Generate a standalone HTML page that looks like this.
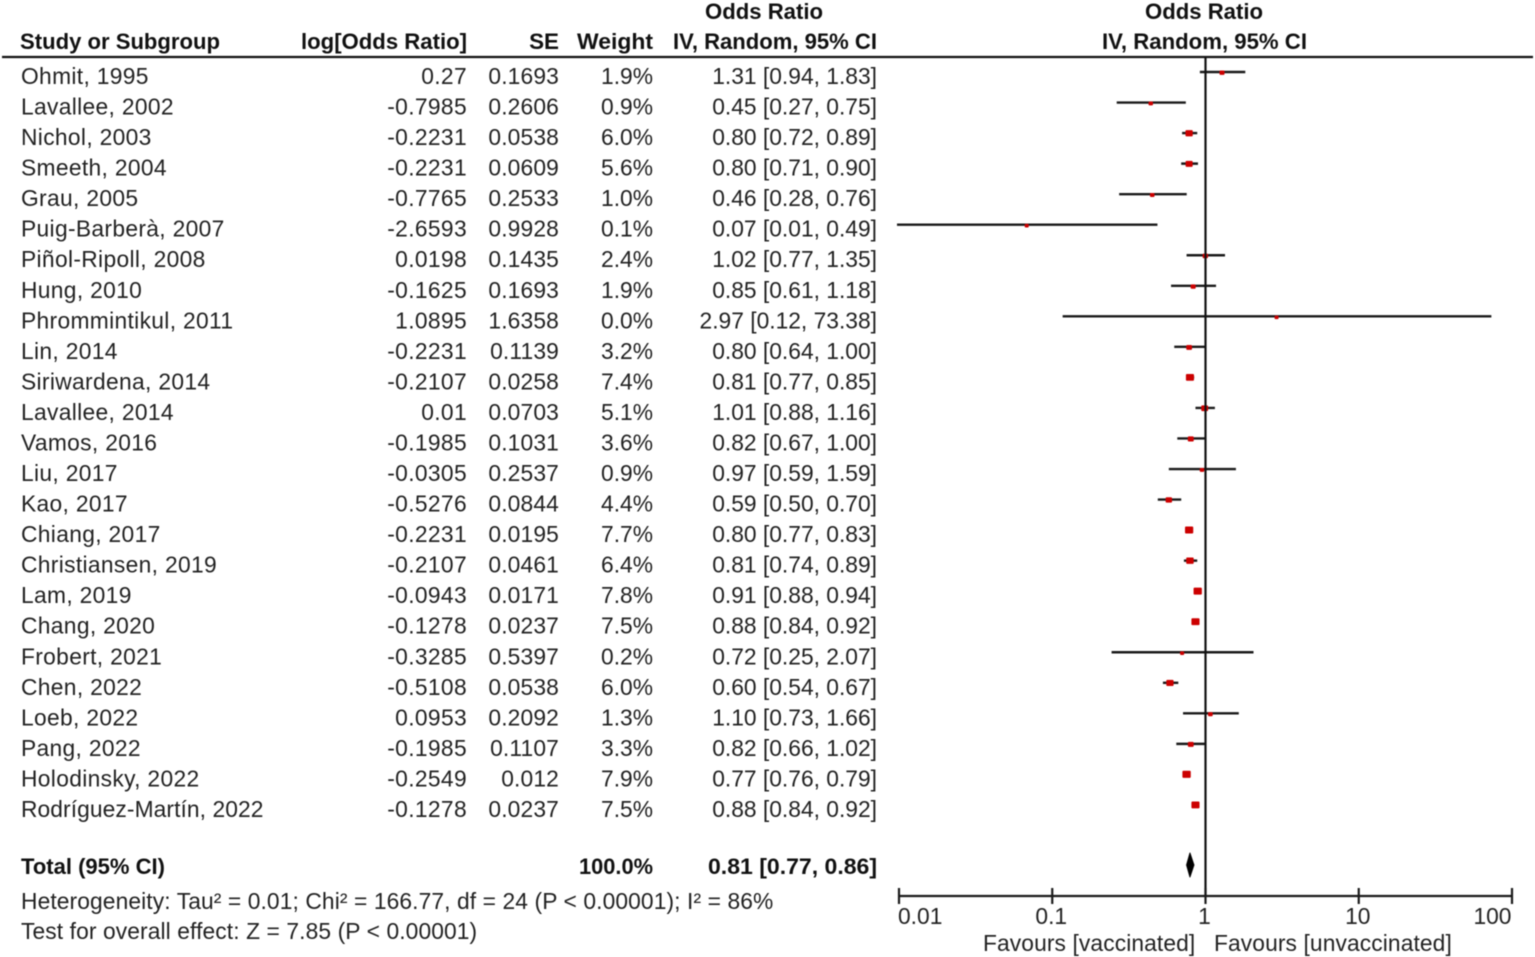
<!DOCTYPE html>
<html lang="en">
<head>
<meta charset="utf-8">
<title>Forest plot</title>
<style>
html,body{margin:0;padding:0;background:#fff;}
svg{display:block;}
text{font-family:"Liberation Sans",Arial,sans-serif;font-size:22.8px;fill:#222;}
.b{font-weight:bold;font-size:22.4px;fill:#111;}
.name{letter-spacing:0.33px;}
.name-long{letter-spacing:0.08px;}
.logodds{letter-spacing:0.35px;}
.se{letter-spacing:0.15px;}
.note{letter-spacing:0.1px;}
#blur-layer{filter:blur(0.55px);}
</style>
</head>
<body>
<svg id="chart" width="1535" height="957" viewBox="0 0 1535 957" xmlns="http://www.w3.org/2000/svg">
<g id="blur-layer">
<g id="header">
<text class="b" x="20" y="49" textLength="200" lengthAdjust="spacingAndGlyphs">Study or Subgroup</text>
<text class="b" x="301" y="49" textLength="166" lengthAdjust="spacingAndGlyphs">log[Odds Ratio]</text>
<text class="b" x="559" y="49" text-anchor="end">SE</text>
<text class="b" x="577" y="49" textLength="76" lengthAdjust="spacingAndGlyphs">Weight</text>
<text class="b" x="705" y="19" textLength="118" lengthAdjust="spacingAndGlyphs">Odds Ratio</text>
<text class="b" x="673" y="49" textLength="204" lengthAdjust="spacingAndGlyphs">IV, Random, 95% CI</text>
<text class="b" x="1145" y="19" textLength="118" lengthAdjust="spacingAndGlyphs">Odds Ratio</text>
<text class="b" x="1102" y="49" textLength="205" lengthAdjust="spacingAndGlyphs">IV, Random, 95% CI</text>
<line x1="2" y1="57" x2="1533" y2="57" stroke="#111" stroke-width="2.2"/>
</g>
<g id="rows"></g>
<g id="marks"></g>
<g id="total">
<text class="b" x="21" y="874" textLength="144" lengthAdjust="spacingAndGlyphs">Total (95% CI)</text>
<text class="b" x="579" y="874" textLength="74" lengthAdjust="spacingAndGlyphs">100.0%</text>
<text class="b" x="708" y="874" textLength="169" lengthAdjust="spacingAndGlyphs">0.81 [0.77, 0.86]</text>
</g>
<text class="note" x="21" y="909">Heterogeneity: Tau² = 0.01; Chi² = 166.77, df = 24 (P &lt; 0.00001); I² = 86%</text>
<text class="note" x="21" y="939">Test for overall effect: Z = 7.85 (P &lt; 0.00001)</text>
<g id="axis"></g>
<text class="note" x="983" y="951">Favours [vaccinated]</text>
<text class="note" x="1214" y="951">Favours [unvaccinated]</text>
</g>
</svg>
<script>
const studies = ["Ohmit, 1995","Lavallee, 2002","Nichol, 2003","Smeeth, 2004","Grau, 2005","Puig-Barberà, 2007","Piñol-Ripoll, 2008","Hung, 2010","Phrommintikul, 2011","Lin, 2014","Siriwardena, 2014","Lavallee, 2014","Vamos, 2016","Liu, 2017","Kao, 2017","Chiang, 2017","Christiansen, 2019","Lam, 2019","Chang, 2020","Frobert, 2021","Chen, 2022","Loeb, 2022","Pang, 2022","Holodinsky, 2022","Rodríguez-Martín, 2022"];
const logOddsLabels = ["0.27","-0.7985","-0.2231","-0.2231","-0.7765","-2.6593","0.0198","-0.1625","1.0895","-0.2231","-0.2107","0.01","-0.1985","-0.0305","-0.5276","-0.2231","-0.2107","-0.0943","-0.1278","-0.3285","-0.5108","0.0953","-0.1985","-0.2549","-0.1278"];
const seLabels = ["0.1693","0.2606","0.0538","0.0609","0.2533","0.9928","0.1435","0.1693","1.6358","0.1139","0.0258","0.0703","0.1031","0.2537","0.0844","0.0195","0.0461","0.0171","0.0237","0.5397","0.0538","0.2092","0.1107","0.012","0.0237"];
const weights = [1.9,0.9,6.0,5.6,1.0,0.1,2.4,1.9,0.0,3.2,7.4,5.1,3.6,0.9,4.4,7.7,6.4,7.8,7.5,0.2,6.0,1.3,3.3,7.9,7.5];
const oddsRatios = [1.31,0.45,0.80,0.80,0.46,0.07,1.02,0.85,2.97,0.80,0.81,1.01,0.82,0.97,0.59,0.80,0.81,0.91,0.88,0.72,0.60,1.10,0.82,0.77,0.88];
const ciLower = [0.94,0.27,0.72,0.71,0.28,0.01,0.77,0.61,0.12,0.64,0.77,0.88,0.67,0.59,0.50,0.77,0.74,0.88,0.84,0.25,0.54,0.73,0.66,0.76,0.84];
const ciUpper = [1.83,0.75,0.89,0.90,0.76,0.49,1.35,1.18,73.38,1.00,0.85,1.16,1.00,1.59,0.70,0.83,0.89,0.94,0.92,2.07,0.67,1.66,1.02,0.79,0.92];
const totalOR = [0.81];
const totalLower = [0.77];
const totalUpper = [0.86];
const axisTicks = [0.01,0.1,1,10,100];
const axisTickLabels = ["0.01","0.1","1","10","100"];

const NS = "http://www.w3.org/2000/svg";
const xAxisScale = v => 1205.5 + Math.log10(v) * 153.25;
const xScale = v => 1204 + Math.log10(v) * 153.5;
const rowY = i => 76 + i * 30.54;
function make(parent, tag, attrs, text) {
  const el = document.createElementNS(NS, tag);
  for (const k in attrs) el.setAttribute(k, attrs[k]);
  if (text !== undefined) el.textContent = text;
  parent.appendChild(el);
  return el;
}
const rowsG = document.getElementById("rows");
const marksG = document.getElementById("marks");
const axisG = document.getElementById("axis");

studies.forEach((s, i) => {
  const y = rowY(i);
  const base = y + 8;
  const t1 = make(rowsG, "text", {x: 21, y: base, class: s.length > 20 ? "name-long" : "name"}, s);
  
  
  const t2 = make(rowsG, "text", {x: 467, y: base, "text-anchor": "end", class: "logodds"}, logOddsLabels[i]);
  
  
  const t3 = make(rowsG, "text", {x: 559, y: base, "text-anchor": "end", class: "se"}, seLabels[i]);
  
  
  const t4 = make(rowsG, "text", {x: 653, y: base, "text-anchor": "end"}, weights[i].toFixed(1) + "%");
  
  
  const t5 = make(rowsG, "text", {x: 877, y: base, "text-anchor": "end"},
    oddsRatios[i].toFixed(2) + " [" + ciLower[i].toFixed(2) + ", " + ciUpper[i].toFixed(2) + "]");
  
  

  const my = y - 4;
  const ci = make(marksG, "line", {x1: xScale(ciLower[i]), x2: xScale(ciUpper[i]) + 1, y1: my, y2: my, stroke: "#1a1a1a", "stroke-width": 2.4});
  
  
  const w = 4 + weights[i] * 0.55;
  const h = 3.5 + weights[i] * 0.45;
  const cy = my + 1 - weights[i] * 0.14;
  const sq = make(marksG, "rect", {x: xScale(oddsRatios[i]) - w / 2, y: cy - h / 2, width: w, height: h, rx: 1, fill: "#cc0000"});
  
  
});

const totalY = 865;
const diamond = make(marksG, "polygon", {
  points: [
    [xScale(totalLower[0]), totalY],
    [xScale(totalOR[0]), totalY - 12],
    [xScale(totalUpper[0]), totalY],
    [xScale(totalOR[0]), totalY + 12]
  ].map(p => p.join(",")).join(" "),
  fill: "#000",
  stroke: "#000",
  "stroke-width": 1,
  "stroke-linejoin": "round"
});



const nullLine = make(axisG, "line", {x1: xAxisScale(1), x2: xAxisScale(1), y1: 57, y2: 896, stroke: "#111", "stroke-width": 2.2});


const axisLine = make(axisG, "line", {x1: xAxisScale(axisTicks[0]) - 1, x2: xAxisScale(axisTicks[axisTicks.length - 1]) + 1, y1: 896, y2: 896, stroke: "#1a1a1a", "stroke-width": 2.2});


axisTicks.forEach((v, i) => {
  const x = xAxisScale(v);
  const tick = make(axisG, "line", {x1: x, x2: x, y1: 888, y2: 904, stroke: "#1a1a1a", "stroke-width": 2.2});
  
  
  const anchor = i === 0 ? "start" : (i === axisTicks.length - 1 ? "end" : "middle");
  const label = make(axisG, "text", {x: i === 0 ? x - 1 : (i === axisTicks.length - 1 ? x - 0.5 : x - 1), y: 924, "text-anchor": anchor}, axisTickLabels[i]);
  
  
});
</script>
</body>
</html>
